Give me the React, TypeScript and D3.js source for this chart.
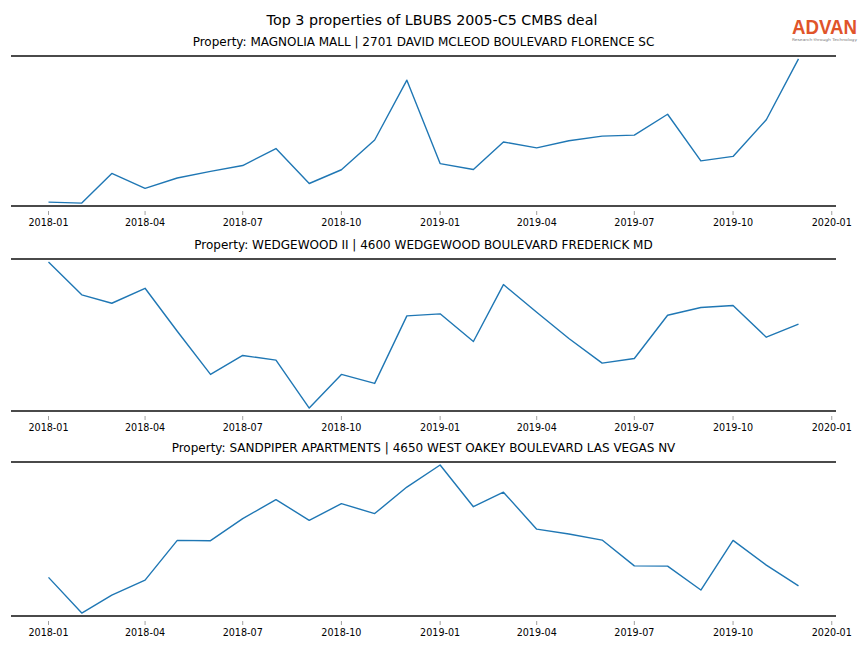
import React from "react";
import * as d3 from "d3";

const months: string[] = [
  "2018-01", "2018-02", "2018-03", "2018-04", "2018-05", "2018-06",
  "2018-07", "2018-08", "2018-09", "2018-10", "2018-11", "2018-12",
  "2019-01", "2019-02", "2019-03", "2019-04", "2019-05", "2019-06",
  "2019-07", "2019-08", "2019-09", "2019-10", "2019-11", "2019-12",
];

const titles: string[] = [
  "Property: MAGNOLIA MALL | 2701 DAVID MCLEOD BOULEVARD FLORENCE SC",
  "Property: WEDGEWOOD II | 4600 WEDGEWOOD BOULEVARD FREDERICK MD",
  "Property: SANDPIPER APARTMENTS | 4650 WEST OAKEY BOULEVARD LAS VEGAS NV",
];

const magnolia: number[] = [27, 17, 320, 167, 273, 340, 400, 573, 217, 357, 660, 1270, 420, 360, 640, 580, 653, 700, 710, 923, 447, 493, 867, 1487];
const wedgewood: number[] = [1487, 1157, 1073, 1223, 793, 360, 550, 503, 23, 360, 270, 947, 967, 690, 1260, 983, 720, 473, 520, 953, 1030, 1050, 733, 863];
const sandpiper: number[] = [387, 37, 213, 360, 750, 747, 963, 1150, 947, 1110, 1013, 1273, 1490, 1080, 1223, 860, 813, 753, 500, 497, 263, 750, 507, 303];

const tickLabels: string[] = ["2018-01", "2018-04", "2018-07", "2018-10", "2019-01", "2019-04", "2019-07", "2019-10", "2020-01"];

const mainTitle = "Top 3 properties of LBUBS 2005-C5 CMBS deal";

const W = 864;
const H = 648;
const panelTops = [56, 259, 462];
const panelBottoms = [206, 411, 616];
const left = 11;
const right = 836;
const FONT = "DejaVu Sans, sans-serif";

const parse = d3.timeParse("%Y-%m");

export default function App() {
  const dates = months.map((m) => parse(m) as Date);
  const [d0, d1] = d3.extent(dates) as [Date, Date];
  const span = d1.getTime() - d0.getTime();
  const x = d3
    .scaleTime()
    .domain([new Date(d0.getTime() - span * 0.05), new Date(d1.getTime() + span * 0.05)])
    .range([left, right]);
  const ticks = tickLabels.map((t) => parse(t) as Date);
  const series = [magnolia, wedgewood, sandpiper];

  return (
    <svg width={W} height={H} style={{ position: "absolute", left: 0, top: 0 }} fontFamily={FONT}>
      <rect width={W} height={H} fill="#ffffff" />
      <text x={432} y={24.5} textAnchor="middle" fontSize={14.3} fill="#000">
        {mainTitle}
      </text>
      <g>
        <text x={792} y={34} fontSize={20} fontWeight={600} fill="#e0542a" textLength={65} lengthAdjust="spacingAndGlyphs" fontFamily="Liberation Sans, sans-serif">
          ADVAN
        </text>
        <text x={792} y={40.5} fontSize={3.8} fill="#777" textLength={65} lengthAdjust="spacingAndGlyphs">
          Research through Technology
        </text>
      </g>
      {series.map((vals, i) => {
        const top = panelTops[i];
        const bottom = panelBottoms[i];
        const [lo, hi] = d3.extent(vals) as [number, number];
        const pad = (hi - lo) * 0.02;
        const y = d3.scaleLinear().domain([lo - pad, hi + pad]).range([bottom, top]);
        const line = d3
          .line<number>()
          .x((_, j) => x(dates[j]))
          .y((v) => y(v));
        return (
          <g key={i}>
            <text x={(left + right) / 2} y={top - 10} textAnchor="middle" fontSize={12} fill="#000">
              {titles[i]}
            </text>
            <path d={line(vals) || ""} fill="none" stroke="#1f77b4" strokeWidth={1.4} strokeLinejoin="round" />
            <line x1={left} x2={right} y1={top} y2={top} stroke="#4a4a4a" strokeWidth={2} />
            <line x1={left} x2={right} y1={bottom} y2={bottom} stroke="#4a4a4a" strokeWidth={2} />
            {ticks.map((t, k) => (
              <g key={k} transform={`translate(${x(t)},${bottom})`}>
                <line y1={5} y2={9} stroke="#888" strokeWidth={0.8} />
                <text y={20} textAnchor="middle" fontSize={9.6} fill="#000">
                  {tickLabels[k]}
                </text>
              </g>
            ))}
          </g>
        );
      })}
    </svg>
  );
}
